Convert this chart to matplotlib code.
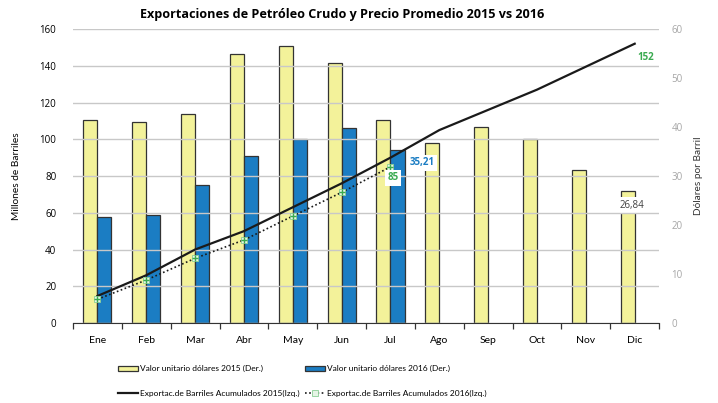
import matplotlib.pyplot as plt
import numpy as np

plt.rcParams['font.family'] = ['Lato', 'DejaVu Sans']

meses = ["Ene", "Feb", "Mar", "Abr", "May", "Jun", "Jul", "Ago", "Sep", "Oct", "Nov", "Dic"]
# dolares por barril (eje derecho)
precio_2015 = [41.4, 41.0, 42.7, 54.8, 56.5, 53.1, 41.5, 36.7, 40.1, 37.6, 31.2, 26.84]
precio_2016 = [21.6, 22.1, 28.2, 34.1, 37.5, 39.7, 35.21]
# millones de barriles acumulados (eje izquierdo)
acum_2015 = [14.7, 26, 40, 50, 63, 76, 90, 105, 116, 127, 139.5, 152]
acum_2016 = [12.9, 23.4, 35.2, 45.2, 58.2, 71.1, 85]

YELLOW = "#F3F29A"
BLUE = "#1B7DC3"
GREEN = "#3AAA50"
OPEN = ['Open Sans', 'DejaVu Sans']

fig = plt.figure(figsize=(7.18, 4.03), dpi=100)
ax = fig.add_axes([0.1017, 0.1985, 0.8163, 0.7295])
ax2 = ax.twinx()

x = np.arange(len(meses))
w = 0.287
b1 = ax2.bar(x - w / 2, precio_2015, width=w, color=YELLOW, edgecolor="#333333", linewidth=0.9, zorder=2)
b2 = ax2.bar(x[:len(precio_2016)] + w / 2, precio_2016, width=w, color=BLUE, edgecolor="#333333", linewidth=0.9, zorder=2)
ax2.set_ylim(0, 60)
ax2.set_yticks(range(0, 61, 10))

# lines on top of bars
ax.set_zorder(ax2.get_zorder() + 1)
ax.patch.set_visible(False)
l1, = ax.plot(x, acum_2015, color="#1a1a1a", linewidth=1.6, zorder=3)
l2, = ax.plot(x[:len(acum_2016)], acum_2016, color="#1a1a1a", linewidth=1.2, linestyle=(0, (1, 1.5)),
              marker="s", markersize=4, markerfacecolor="#e6f5e6", markeredgecolor="#8ccf96",
              markeredgewidth=0.6, zorder=3)
ax.plot(x[:len(acum_2016)], acum_2016, linestyle="none", marker="+", markersize=4,
        color=GREEN, markeredgewidth=1.0, zorder=4)
ax.set_ylim(0, 160)
ax.set_yticks(range(0, 161, 20))
ax.set_xlim(-0.5, 11.5)
ax.grid(axis="y", color="#c8c8c8", linewidth=1.0)
ax.set_axisbelow(True)
ax2.grid(False)

ax.set_xticks(x)
ax.set_xticklabels(meses, fontsize=7.5)
ax.set_xticks(np.arange(-0.5, 12, 1), minor=True)
ax.tick_params(axis="x", which="major", length=0, pad=9)
ax.tick_params(axis="x", which="minor", length=4, direction="out", color="#333333", width=0.9)
ax.tick_params(axis="y", length=0, labelsize=7, pad=12)
ax2.tick_params(axis="y", length=0, labelsize=7, labelcolor="#a6a6a6", pad=9)
for lab in ax.get_yticklabels() + ax2.get_yticklabels():
    lab.set_family(OPEN)
for a in (ax, ax2):
    for s in ("top", "left", "right"):
        a.spines[s].set_visible(False)
ax.spines["bottom"].set_color("#333333")
ax2.spines["bottom"].set_visible(False)

ax.set_ylabel("Millones de Barriles", fontsize=7.3, labelpad=13)
ax2.set_ylabel("Dólares por Barril", fontsize=7.3, labelpad=8, color="#333333")
ax.set_title("Exportaciones de Petróleo Crudo y Precio Promedio 2015 vs 2016",
             fontsize=9.1, fontweight="bold", pad=8, family=OPEN, x=0.459)

box = dict(boxstyle="square,pad=0.25", facecolor="white", edgecolor="none")
ax.annotate("152", (11, acum_2015[-1]), xytext=(8, -10), textcoords="offset points",
            ha="center", va="center", fontsize=7, fontweight="bold", color=GREEN, family=OPEN)
ax.annotate("85", (6, acum_2016[-1]), xytext=(2, -8), textcoords="offset points",
            ha="center", va="center", fontsize=7, fontweight="bold", color=GREEN, bbox=box, zorder=5,
            family=OPEN)
ax2.annotate("35,21", (6 + w / 2, precio_2016[-1]), xytext=(18, -9), textcoords="offset points",
             ha="center", va="center", fontsize=7, fontweight="bold", color=BLUE, bbox=box, zorder=5,
             family=OPEN)
ax2.annotate("26,84", (11 - w / 2, precio_2015[-1]), xytext=(3, -10), textcoords="offset points",
             ha="center", va="center", fontsize=7, color="#404040", bbox=box, zorder=5, family=OPEN)

fig.legend([b1, l1, b2, l2],
           ["Valor unitario dólares 2015 (Der.)", "Exportac.de Barriles Acumulados 2015(Izq.)",
            "Valor unitario dólares 2016 (Der.)", "Exportac.de Barriles Acumulados 2016(Izq.)"],
           ncol=2, loc="upper left", bbox_to_anchor=(0.158, 0.104), frameon=False,
           fontsize=6, handlelength=2.4, handleheight=0.55, handletextpad=0.25,
           columnspacing=0.65, labelspacing=2.1, borderpad=0)

fig.savefig("out.png", dpi=100)
